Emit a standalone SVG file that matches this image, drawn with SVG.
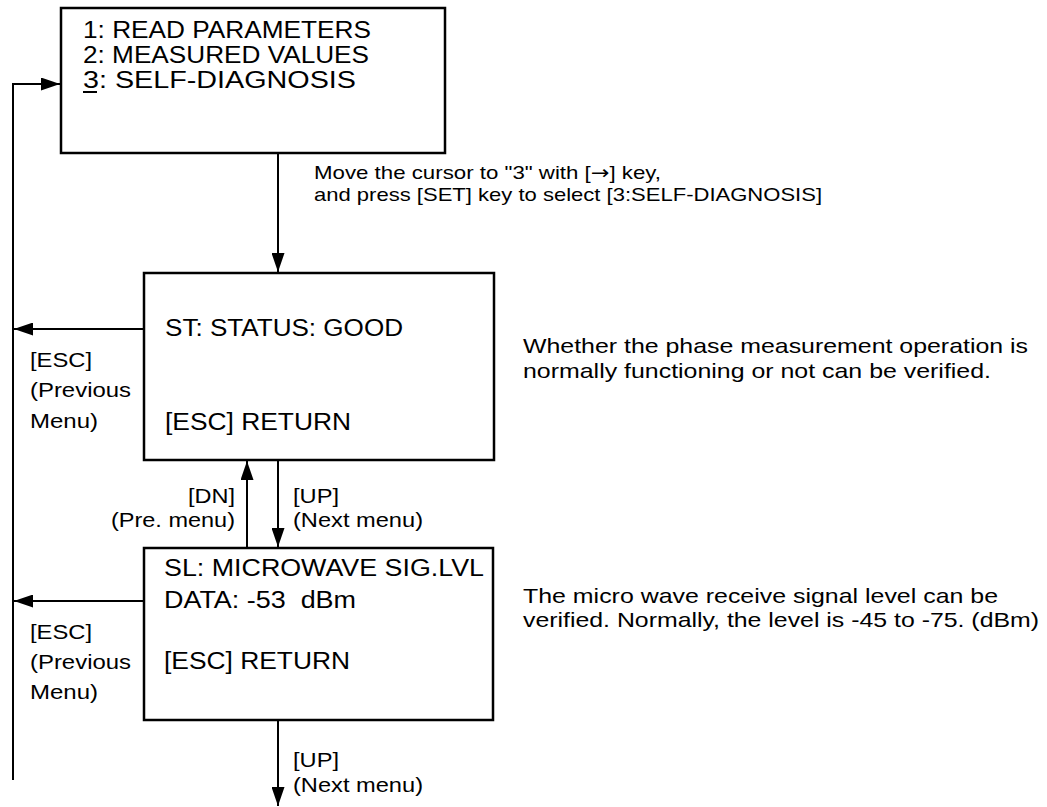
<svg xmlns="http://www.w3.org/2000/svg" width="1047" height="807" viewBox="0 0 1047 807">
<style>
.box{fill:#fff;stroke:#000;stroke-width:2.5}
.ln{fill:none;stroke:#000;stroke-width:2}
text{font-family:"Liberation Sans",Arial,Helvetica,sans-serif;fill:#000}
.bt{font-size:23px}
.lb{font-size:21px}
.mv{font-size:19px}
.rt{font-size:21px}
.ar{font-family:"DejaVu Sans",sans-serif}
</style>
<defs>
<marker id="ah" markerUnits="userSpaceOnUse" markerWidth="20" markerHeight="13" refX="19" refY="6.5" orient="auto">
<path d="M0,0 L19,6.5 L0,13 z" fill="#000"/>
</marker>
</defs>
<rect width="1047" height="807" fill="#fff"/>
<g id="connectors">
<path class="ln" d="M13,780 V84 H60" marker-end="url(#ah)"/>
<path class="ln" d="M278,153 V272" marker-end="url(#ah)"/>
<path class="ln" d="M144,329 H14" marker-end="url(#ah)"/>
<path class="ln" d="M278,460 V547" marker-end="url(#ah)"/>
<path class="ln" d="M247,548 V461" marker-end="url(#ah)"/>
<path class="ln" d="M144,601 H14" marker-end="url(#ah)"/>
<path class="ln" d="M278,720 V806" marker-end="url(#ah)"/>
</g>
<g id="menu">
<rect class="box" x="61" y="8" width="384" height="145"/>
<text class="bt" x="83" y="38" textLength="288" lengthAdjust="spacingAndGlyphs">1: READ PARAMETERS</text>
<text class="bt" x="83" y="63" textLength="286" lengthAdjust="spacingAndGlyphs">2: MEASURED VALUES</text>
<text class="bt" x="83" y="88" textLength="273" lengthAdjust="spacingAndGlyphs">3: SELF-DIAGNOSIS</text>
<line x1="83" y1="92" x2="97" y2="92" stroke="#000" stroke-width="2"/>
</g>
<g id="move-label">
<text class="mv" x="314" y="179" textLength="347" lengthAdjust="spacingAndGlyphs">Move the cursor to "3" with [<tspan class="ar">→</tspan>] key,</text>
<text class="mv" x="314" y="201" textLength="508" lengthAdjust="spacingAndGlyphs">and press [SET] key to select [3:SELF-DIAGNOSIS]</text>
</g>
<g id="status">
<rect class="box" x="144" y="273" width="350" height="187"/>
<text class="bt" x="165" y="336" textLength="238" lengthAdjust="spacingAndGlyphs">ST: STATUS: GOOD</text>
<text class="bt" x="165" y="430" textLength="186" lengthAdjust="spacingAndGlyphs">[ESC] RETURN</text>
</g>
<g id="esc1">
<text class="lb" x="30" y="367" textLength="62" lengthAdjust="spacingAndGlyphs">[ESC]</text>
<text class="lb" x="30" y="397" textLength="101" lengthAdjust="spacingAndGlyphs">(Previous</text>
<text class="lb" x="30" y="428" textLength="68" lengthAdjust="spacingAndGlyphs">Menu)</text>
</g>
<g id="status-note">
<text class="rt" x="523" y="353" textLength="505" lengthAdjust="spacingAndGlyphs">Whether the phase measurement operation is</text>
<text class="rt" x="523" y="378" textLength="468" lengthAdjust="spacingAndGlyphs">normally functioning or not can be verified.</text>
</g>
<g id="dnup">
<text class="lb" x="235" y="503" text-anchor="end" textLength="47" lengthAdjust="spacingAndGlyphs">[DN]</text>
<text class="lb" x="235" y="527" text-anchor="end" textLength="124" lengthAdjust="spacingAndGlyphs">(Pre. menu)</text>
<text class="lb" x="293" y="503" textLength="46" lengthAdjust="spacingAndGlyphs">[UP]</text>
<text class="lb" x="293" y="527" textLength="130" lengthAdjust="spacingAndGlyphs">(Next menu)</text>
</g>
<g id="siglvl">
<rect class="box" x="144" y="548" width="349" height="172"/>
<text class="bt" x="164" y="576" textLength="320" lengthAdjust="spacingAndGlyphs">SL: MICROWAVE SIG.LVL</text>
<text class="bt" x="164" y="608" textLength="192" lengthAdjust="spacingAndGlyphs" xml:space="preserve">DATA: -53  dBm</text>
<text class="bt" x="164" y="669" textLength="186" lengthAdjust="spacingAndGlyphs">[ESC] RETURN</text>
</g>
<g id="esc2">
<text class="lb" x="30" y="639" textLength="62" lengthAdjust="spacingAndGlyphs">[ESC]</text>
<text class="lb" x="30" y="669" textLength="101" lengthAdjust="spacingAndGlyphs">(Previous</text>
<text class="lb" x="30" y="699" textLength="68" lengthAdjust="spacingAndGlyphs">Menu)</text>
</g>
<g id="siglvl-note">
<text class="rt" x="523" y="603" textLength="475" lengthAdjust="spacingAndGlyphs">The micro wave receive signal level can be</text>
<text class="rt" x="523" y="627" textLength="516" lengthAdjust="spacingAndGlyphs">verified. Normally, the level is -45 to -75. (dBm)</text>
</g>
<g id="next">
<text class="lb" x="293" y="767" textLength="46" lengthAdjust="spacingAndGlyphs">[UP]</text>
<text class="lb" x="293" y="792" textLength="130" lengthAdjust="spacingAndGlyphs">(Next menu)</text>
</g>
</svg>
